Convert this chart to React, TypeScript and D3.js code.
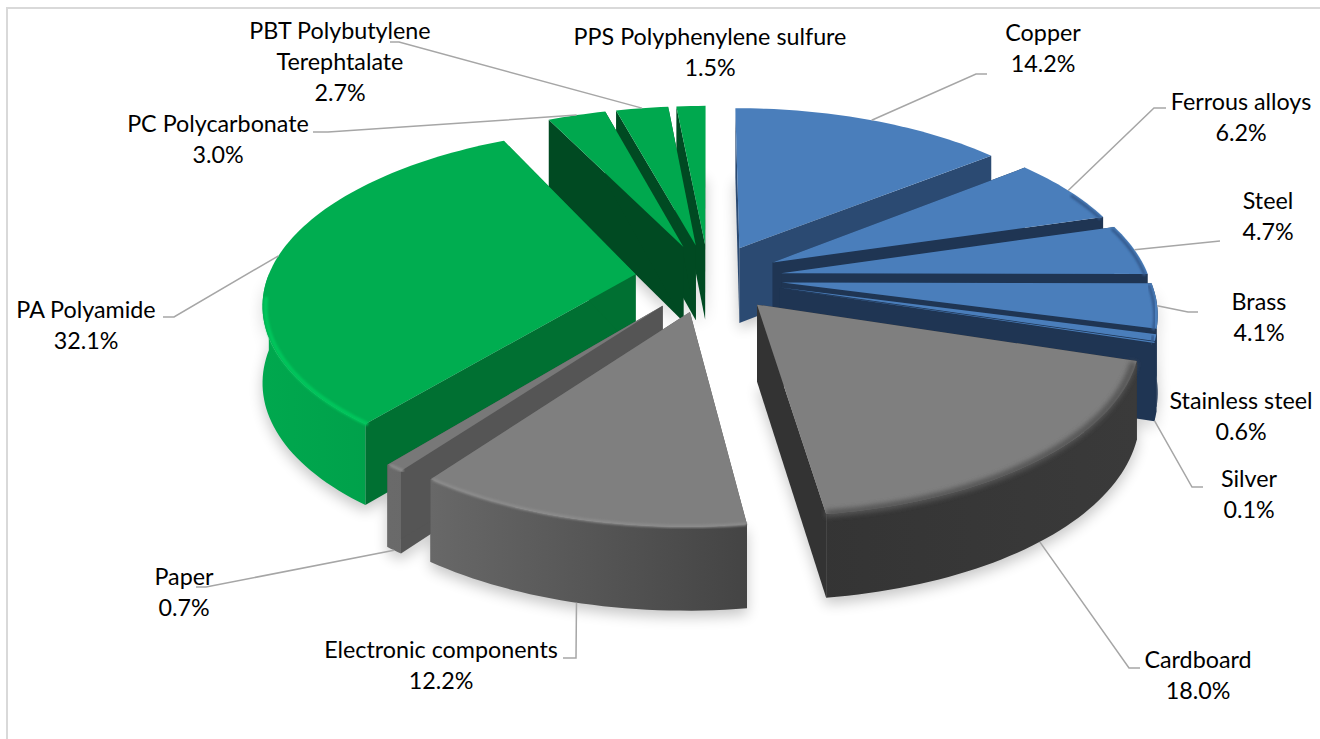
import React from "react";
import * as d3 from "d3";

// values in percent, clockwise from 12 o'clock
const CATEGORIES = [
  "Copper", "Ferrous alloys", "Steel", "Brass", "Stainless steel", "Silver",
  "Cardboard", "Electronic components", "Paper", "PA Polyamide",
  "PC Polycarbonate", "PBT Polybutylene|Terephtalate", "PPS Polyphenylene sulfure",
];
const VALUES = [14.2, 6.2, 4.7, 4.1, 0.6, 0.1, 18.0, 12.2, 0.7, 32.1, 3.0, 2.7, 1.5];

// styling per slice
const TOP_COLORS = ["#4a7ebb", "#4a7ebb", "#4a7ebb", "#4a7ebb", "#4a7ebb", "#4a7ebb", "#7f7f7f", "#7f7f7f", "#787878", "#00ad50", "#00a84e", "#00a84e", "#00a84e"];
const CUT_COLORS = ["#2b4a72", "#1f3553", "#1f3553", "#1f3553", "#1f3553", "#1f3553", "#333333", "#555555", "#555555", "#007032", "#004a22", "#004a22", "#004a22"];
const WALL_LEFT = ["#1f3553", "#1f3553", "#1f3553", "#1f3553", "#1f3553", "#1f3553", "#333333", "#686868", "#6a6a6a", "#00a84e", "#00a84e", "#00a84e", "#00a84e"];
const WALL_RIGHT = ["#1f3553", "#1f3553", "#1f3553", "#1f3553", "#1f3553", "#1f3553", "#3a3a3a", "#444444", "#606060", "#008f42", "#00a84e", "#00a84e", "#00a84e"];
const RIM_COLORS = ["#345c90", "#345c90", "#345c90", "#345c90", "#345c90", "#345c90", "#555555", "#8c8c8c", "#8c8c8c", "#00c65c", "#00c65c", "#00c65c", "#00c65c"];
const RIM_WIDTHS = [3, 3, 3, 3, 3, 3, 7, 3, 3, 4, 3, 3, 3];
const RIM_LIMITS = [0.45, 0.45, 0.45, 0.45, 0.45, 0.45, 0.05, 0.05, 0.05, -0.12, 0.05, 0.05, 0.05];

// label centre x, first line centre y
const LABEL_X = [1043, 1241, 1268, 1259, 1241, 1249, 1198, 441, 184, 86, 218, 340, 710];
const LABEL_Y = [33, 102, 201, 302, 401, 479, 660, 650, 577, 310, 124, 31, 37];
// elbow then end of each leader, empty when the label has none
const LEADER_PATHS: [number, number][][] = [
  [[976, 74], [987, 74]],
  [[1154, 108], [1166, 108]],
  [[1220, 241]],
  [[1188, 312], [1198, 312]],
  [],
  [[1192, 487], [1203, 487]],
  [[1129, 668], [1140, 668]],
  [[576, 658], [563, 658]],
  [[206, 587], [196, 587]],
  [[174, 317], [163, 317]],
  [[328, 132], [313, 132]],
  [[399, 42], [390, 42]],
  [],
];

const WIDTH = 1320;
const HEIGHT = 739;
const CX = 708.5;
const CY = 278;
const RX = 368;
const RY = 170;
const PERSPECTIVE = 0.154;
const EXPLODE = 0.2;
const LINE_HEIGHT = 31;

const wallHeight = d3.scaleLinear().domain([-1.2, 1.2]).range([68, 84]);

type Pt = [number, number];

// plane point to screen; z 0 is the top face, z 1 the bottom
const project = (x: number, y: number, z = 0): Pt => {
  const s = 1 / (1 - PERSPECTIVE * y);
  return [CX + RX * x * s, CY + RY * y * s + z * wallHeight(y)];
};

const line = d3.line<Pt>();
const arcs = d3.pie<number>().value((d) => d).sort(null).startAngle(0).endAngle(2 * Math.PI)(VALUES);

const slices = arcs.map((a, i) => {
  const mid = (a.startAngle + a.endAngle) / 2;
  const ax = EXPLODE * Math.sin(mid);
  const ay = -EXPLODE * Math.cos(mid);
  const rim = (t: number, z = 0, r = 1) => project(ax + r * Math.sin(t), ay - r * Math.cos(t), z);
  const n = Math.max(4, Math.ceil((a.endAngle - a.startAngle) * 40));
  const angles = d3.range(n + 1).map((k) => a.startAngle + ((a.endAngle - a.startAngle) * k) / n);
  const top: Pt[] = [project(ax, ay), ...angles.map((t) => rim(t))];
  const bottom: Pt[] = [project(ax, ay, 1), ...angles.map((t) => rim(t, 1))];
  const cut = (t: number): Pt[] => [project(ax, ay), rim(t), rim(t, 1), project(ax, ay, 1)];
  // the outer wall only shows on the side that faces the viewer
  const facing = angles.filter((t) => Math.cos(t) < 0);
  const wall: Pt[] = [...facing.map((t) => rim(t)), ...facing.map((t) => rim(t, 1)).reverse()];
  const bevel: Pt[] = angles.filter((t) => Math.cos(t) < RIM_LIMITS[i]).map((t) => rim(t, 0.02, 0.992));
  const nearEnd = ay - Math.cos(mid) > 0.25;
  const anchor = rim(mid, nearEnd ? 1 : 0);
  const xs = [...top, ...bottom].map((p) => p[0]);
  return { i, mid, top, bottom, wall, bevel, anchor, cuts: [cut(a.startAngle), cut(a.endAngle)], x0: d3.min(xs)!, x1: d3.max(xs)! };
});

// far slices first so nearer ones cover them
const drawOrder = [...slices].sort((a, b) => Math.cos(b.mid) - Math.cos(a.mid));

export default function App() {
  return (
    <svg
      width={WIDTH}
      height={HEIGHT}
      style={{ position: "fixed", left: 0, top: 0, display: "block", background: "#fff" }}
      fontFamily="Lato, sans-serif"
      fontSize={23.3}
    >
      <defs>
        <filter id="shadow" x="-20%" y="-20%" width="140%" height="140%">
          <feGaussianBlur stdDeviation="7" />
        </filter>
        <filter id="soft" x="-5%" y="-5%" width="110%" height="110%">
          <feGaussianBlur stdDeviation="1.2" />
        </filter>
        <filter id="softer" x="-5%" y="-5%" width="110%" height="110%">
          <feGaussianBlur stdDeviation="2.4" />
        </filter>
        {slices.map((s) => (
          <linearGradient key={s.i} id={`wall${s.i}`} gradientUnits="userSpaceOnUse" x1={s.x0} x2={s.x1} y1={0} y2={0}>
            <stop offset="0" stopColor={WALL_LEFT[s.i]} />
            <stop offset="1" stopColor={WALL_RIGHT[s.i]} />
          </linearGradient>
        ))}
      </defs>

      <path d={`M7 ${HEIGHT}V8H${WIDTH}`} fill="none" stroke="#d9d9d9" strokeWidth={2} />

      <g filter="url(#shadow)" transform="translate(0,6)" opacity={0.22}>
        {slices.map((s) => (
          <g key={s.i} fill="#000">
            <path d={line(s.bottom)!} />
            {s.wall.length > 2 && <path d={line(s.wall)!} />}
          </g>
        ))}
      </g>

      {drawOrder.map((s) => (
        <g key={s.i}>
          {s.cuts.map((c, k) => (
            <path key={k} d={line(c)! + "Z"} fill={CUT_COLORS[s.i]} />
          ))}
          {s.wall.length > 2 && <path d={line(s.wall)! + "Z"} fill={`url(#wall${s.i})`} />}
          <path d={line(s.top)! + "Z"} fill={TOP_COLORS[s.i]} />
          {s.bevel.length > 1 && (
            <path
              d={line(s.bevel)!}
              fill="none"
              stroke={RIM_COLORS[s.i]}
              strokeWidth={RIM_WIDTHS[s.i]}
              filter={RIM_WIDTHS[s.i] > 5 ? "url(#softer)" : "url(#soft)"}
            />
          )}
        </g>
      ))}

      {slices.map((s) =>
        LEADER_PATHS[s.i].length ? (
          <path
            key={s.i}
            d={line([s.anchor, ...LEADER_PATHS[s.i]])!}
            fill="none"
            stroke="#a6a6a6"
            strokeWidth={1.5}
          />
        ) : null
      )}

      {CATEGORIES.map((c, i) => {
        const lines = [...c.split("|"), `${VALUES[i].toFixed(1)}%`];
        return (
          <text key={c} textAnchor="middle" fill="#000">
            {lines.map((t, k) => (
              <tspan key={k} x={LABEL_X[i]} y={LABEL_Y[i] + k * LINE_HEIGHT} dy="0.35em">
                {t}
              </tspan>
            ))}
          </text>
        );
      })}
    </svg>
  );
}
